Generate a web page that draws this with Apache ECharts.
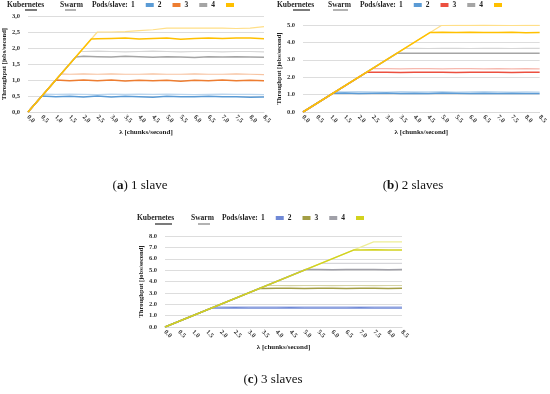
<!DOCTYPE html>
<html><head><meta charset="utf-8">
<script src="https://cdn.jsdelivr.net/npm/echarts@6/dist/echarts.min.js"></script>
<style>html,body{margin:0;padding:0;background:#fff}#c{width:550px;height:394px}</style>
</head><body><div id="c"></div>
<script>
// ---------- data: [lambda, throughput] ----------
const xTicks = [0,0.5,1,1.5,2,2.5,3,3.5,4,4.5,5,5.5,6,6.5,7,7.5,8,8.5];
const podLabels = ['1','2','3','4'];
// (a) 1 slave
const a_k1 = [[0,0],[0.5,0.5],[1,0.48],[1.5,0.49],[2,0.47],[2.5,0.5],[3,0.47],[3.5,0.49],[4,0.48],[4.5,0.46],[5,0.49],[5.5,0.48],[6,0.48],[6.5,0.49],[7,0.48],[7.5,0.48],[8,0.46],[8.5,0.47]];
const a_s1 = [[0,0],[0.56,0.56],[1,0.55],[1.5,0.56],[2,0.55],[2.5,0.54],[3,0.56],[3.5,0.55],[4,0.56],[4.5,0.55],[5,0.56],[5.5,0.55],[6,0.54],[6.5,0.55],[7,0.56],[7.5,0.55],[8,0.55],[8.5,0.54]];
const a_k2 = [[0,0],[1,1],[1.5,0.98],[2,1],[2.5,0.98],[3,1],[3.5,0.97],[4,0.99],[4.5,0.98],[5,0.99],[5.5,0.96],[6,0.99],[6.5,0.98],[7,1],[7.5,0.98],[8,0.99],[8.5,0.98]];
const a_s2 = [[0,0],[1.19,1.19],[1.5,1.18],[2,1.19],[2.5,1.18],[3,1.19],[3.5,1.18],[4,1.18],[4.5,1.19],[5,1.18],[5.5,1.18],[6,1.19],[6.5,1.18],[7,1.18],[7.5,1.19],[8,1.18],[8.5,1.17]];
const a_k3 = [[0,0],[1.72,1.72],[2,1.74],[2.5,1.73],[3,1.72],[3.5,1.74],[4,1.73],[4.5,1.71],[5,1.73],[5.5,1.72],[6,1.70],[6.5,1.73],[7,1.72],[7.5,1.73],[8,1.72],[8.5,1.71]];
const a_s3 = [[0,0],[1.89,1.89],[2,1.89],[2.5,1.9],[3,1.89],[3.5,1.88],[4,1.89],[4.5,1.9],[5,1.89],[5.5,1.88],[6,1.89],[6.5,1.89],[7,1.88],[7.5,1.89],[8,1.89],[8.5,1.88]];
const a_k4 = [[0,0],[2.28,2.28],[2.5,2.29],[3,2.3],[3.5,2.31],[4,2.28],[4.5,2.3],[5,2.31],[5.5,2.27],[6,2.3],[6.5,2.31],[7,2.3],[7.5,2.31],[8,2.31],[8.5,2.29]];
const a_s4 = [[0,0],[2.5,2.5],[3,2.5],[3.5,2.51],[4,2.54],[4.5,2.57],[5,2.62],[5.5,2.62],[6,2.62],[6.5,2.62],[7,2.62],[7.5,2.61],[8,2.62],[8.5,2.67]];
// (b) 2 slaves
const b_k1 = [[0,0],[1.08,1.08],[1.5,1.09],[2,1.07],[2.5,1.08],[3,1.09],[3.5,1.07],[4,1.08],[4.5,1.07],[5,1.09],[5.5,1.08],[6,1.07],[6.5,1.08],[7,1.06],[7.5,1.08],[8,1.07],[8.5,1.06]];
const b_s1 = [[0,0],[1.17,1.17],[1.5,1.16],[2,1.17],[2.5,1.16],[3,1.15],[3.5,1.17],[4,1.16],[4.5,1.16],[5,1.17],[5.5,1.15],[6,1.16],[6.5,1.17],[7,1.16],[7.5,1.15],[8,1.16],[8.5,1.15]];
const b_k2 = [[0,0],[2.28,2.28],[2.5,2.28],[3,2.29],[3.5,2.27],[4,2.28],[4.5,2.29],[5,2.28],[5.5,2.27],[6,2.29],[6.5,2.28],[7,2.28],[7.5,2.27],[8,2.28],[8.5,2.28]];
const b_s2 = [[0,0],[2.49,2.49],[3,2.49],[3.5,2.48],[4,2.49],[4.5,2.49],[5,2.48],[5.5,2.49],[6,2.49],[6.5,2.48],[7,2.49],[7.5,2.48],[8,2.49],[8.5,2.48]];
const b_k3 = [[0,0],[3.37,3.37],[3.5,3.38],[4,3.37],[4.5,3.38],[5,3.37],[5.5,3.38],[6,3.38],[6.5,3.37],[7,3.38],[7.5,3.37],[8,3.38],[8.5,3.37]];
const b_s3 = [[0,0],[3.66,3.66],[4,3.66],[4.5,3.65],[5,3.66],[5.5,3.66],[6,3.65],[6.5,3.66],[7,3.66],[7.5,3.65],[8,3.66],[8.5,3.66]];
const b_k4 = [[0,0],[4.57,4.57],[5,4.58],[5.5,4.57],[6,4.58],[6.5,4.57],[7,4.57],[7.5,4.58],[8,4.56],[8.5,4.57]];
const b_s4 = [[0,0],[4.97,4.97],[5.5,4.98],[6,4.98],[6.5,4.99],[7,4.98],[7.5,4.97],[8,4.98],[8.5,4.98]];
// (c) 3 slaves
const c_k1 = [[0,0],[1.68,1.68],[2,1.68],[2.5,1.69],[3,1.68],[3.5,1.67],[4,1.68],[4.5,1.69],[5,1.68],[5.5,1.68],[6,1.67],[6.5,1.68],[7,1.69],[7.5,1.68],[8,1.67],[8.5,1.68]];
const c_s1 = [[0,0],[1.8,1.8],[2,1.8],[2.5,1.79],[3,1.8],[3.5,1.8],[4,1.79],[4.5,1.8],[5,1.8],[5.5,1.79],[6,1.8],[6.5,1.8],[7,1.79],[7.5,1.8],[8,1.8],[8.5,1.79]];
const c_k2 = [[0,0],[3.4,3.4],[3.5,3.39],[4,3.4],[4.5,3.41],[5,3.39],[5.5,3.4],[6,3.4],[6.5,3.39],[7,3.41],[7.5,3.4],[8,3.39],[8.5,3.4]];
const c_s2 = [[0,0],[3.65,3.65],[4,3.65],[4.5,3.64],[5,3.65],[5.5,3.65],[6,3.64],[6.5,3.65],[7,3.65],[7.5,3.64],[8,3.65],[8.5,3.65]];
const c_k3 = [[0,0],[5.05,5.05],[5.5,5.05],[6,5.04],[6.5,5.05],[7,5.06],[7.5,5.05],[8,5.04],[8.5,5.05]];
const c_s3 = [[0,0],[5.6,5.6],[6,5.6],[6.5,5.6],[7,5.59],[7.5,5.6],[8,5.6],[8.5,5.6]];
const c_k4 = [[0,0],[6.78,6.78],[7,6.78],[7.5,6.79],[8,6.78],[8.5,6.78]];
const c_s4 = [[0,0],[7.48,7.48],[8,7.48],[8.5,7.48]];

// ---------- styling ----------
const FONT = 'Liberation Serif';
const panels = [
  {id:'a', left:28, top:16, width:236, height:96, max:3, interval:0.5, comma:true,
   k:[a_k1,a_k2,a_k3,a_k4], s:[a_s1,a_s2,a_s3,a_s4],
   kc:['#5B9BD5','#ED7D31','#A5A5A5','#FFC000'], sc:['#BCD6EE','#F7C4A2','#D6D6D6','#FFDF88'],
   legX:{kub:7, swarm:60, pods:92, leg:131, y:5, ukx:[25,37], usx:[65,76], uy:10}},
  {id:'b', left:303, top:25, width:237, height:87, max:5, interval:1, comma:false,
   k:[b_k1,b_k2,b_k3,b_k4], s:[b_s1,b_s2,b_s3,b_s4],
   kc:['#5B9BD5','#EC5040','#A5A5A5','#FFC000'], sc:['#BCD6EE','#F6B8AE','#D6D6D6','#FFDF88'],
   legX:{kub:277, swarm:328, pods:360, leg:399, y:5, ukx:[293,310], usx:[333,348], uy:10}},
  {id:'c', left:165, top:236, width:237, height:91, max:8, interval:1, comma:false,
   k:[c_k1,c_k2,c_k3,c_k4], s:[c_s1,c_s2,c_s3,c_s4],
   kc:['#7089D6','#A39E45','#A0A0A8','#D2D21E'], sc:['#C6D0F0','#D6D4A4','#D6D6DA','#EEEE96'],
   legX:{kub:137, swarm:191, pods:222, leg:261, y:218, ukx:[155,172], usx:[198,210], uy:224}}
];

const grid=[], xAxis=[], yAxis=[], series=[], legend=[], graphic=[];
panels.forEach((p,i)=>{
  const fmt = v => { const s=(+v).toFixed(1); return p.comma ? s.replace('.',',') : s; };
  grid.push({left:p.left, top:p.top, width:p.width, height:p.height, containLabel:false});
  xAxis.push({type:'value', gridIndex:i, min:0, max:8.5, interval:0.5,
    name:'λ [chunks/second]', nameLocation:'middle', nameGap:17,
    nameTextStyle:{fontFamily:FONT, fontWeight:'bold', fontSize:7, color:'#222'},
    axisLine:{show:true, lineStyle:{color:'#D9D9D9'}}, axisTick:{show:false}, splitLine:{show:false},
    axisLabel:{rotate:-45, fontFamily:FONT, fontWeight:'bold', fontSize:6.5, color:'#333', margin:4, formatter:fmt,
      customValues: xTicks}});
  yAxis.push({type:'value', gridIndex:i, min:0, max:p.max, interval:p.interval,
    name:'Throughput [jobs/second]', nameLocation:'middle', nameGap:17,
    nameTextStyle:{fontFamily:FONT, fontWeight:'bold', fontSize:6.5, color:'#222'},
    axisLine:{show:false}, axisTick:{show:false},
    splitLine:{lineStyle:{color:'#DDDDDD', width:1}},
    axisLabel:{fontFamily:FONT, fontWeight:'bold', fontSize:6.5, color:'#333', margin:8, formatter:fmt}});
  // swarm first (light), then kubernetes on top
  p.s.forEach((d,j)=>series.push({type:'line', name:p.id+'s'+podLabels[j], xAxisIndex:i, yAxisIndex:i, data:d,
    showSymbol:false, symbol:'none', lineStyle:{width:1.2, color:p.sc[j]}, itemStyle:{color:p.sc[j]}}));
  p.k.forEach((d,j)=>series.push({type:'line', name:p.id+'k'+podLabels[j], xAxisIndex:i, yAxisIndex:i, data:d,
    showSymbol:false, symbol:'none', lineStyle:{width:1.5, color:p.kc[j]}, itemStyle:{color:p.kc[j]}}));
  const L=p.legX;
  legend.push({data:podLabels.map(n=>p.id+'k'+n), left:L.leg, top:L.y-4, align:'right', icon:'rect',
    itemWidth:8, itemHeight:4, itemGap:4, selectedMode:false, padding:0,
    formatter:n=>n.slice(-1),
    textStyle:{fontFamily:FONT, fontWeight:'bold', fontSize:7.5, color:'#222', padding:[0,6,0,0]}});
  const ts={fontFamily:FONT, fontWeight:'bold', fontSize:7.5, fill:'#222', verticalAlign:'middle', align:'left'};
  graphic.push({type:'text', x:L.kub, y:L.y, style:Object.assign({text:'Kubernetes'},ts)});
  graphic.push({type:'text', x:L.swarm, y:L.y, style:Object.assign({text:'Swarm'},ts)});
  graphic.push({type:'text', x:L.pods, y:L.y, style:Object.assign({text:'Pods/slave:'},ts)});
  graphic.push({type:'line', shape:{x1:L.ukx[0], y1:L.uy, x2:L.ukx[1], y2:L.uy}, style:{stroke:'#333', lineWidth:1.3}});
  graphic.push({type:'line', shape:{x1:L.usx[0], y1:L.uy, x2:L.usx[1], y2:L.uy}, style:{stroke:'#888', lineWidth:1.3}});
});

const captions = [
  {letter:'a', rest:' 1 slave', x:140, y:186},
  {letter:'b', rest:' 2 slaves', x:413, y:186},
  {letter:'c', rest:' 3 slaves', x:273, y:380}
];
captions.forEach(c=>{
  graphic.push({type:'text', x:c.x, y:c.y, style:{text:'({b|'+c.letter+'})'+c.rest, fontFamily:FONT, fontSize:13, fill:'#111',
    align:'center', verticalAlign:'middle', rich:{b:{fontFamily:FONT, fontSize:13, fontWeight:'bold', fill:'#111'}}}});
});

const chart = echarts.init(document.getElementById('c'), null, {renderer:'canvas'});
chart.setOption({animation:false, backgroundColor:'#fff', grid, xAxis, yAxis, series, legend, graphic});
</script></body></html>
